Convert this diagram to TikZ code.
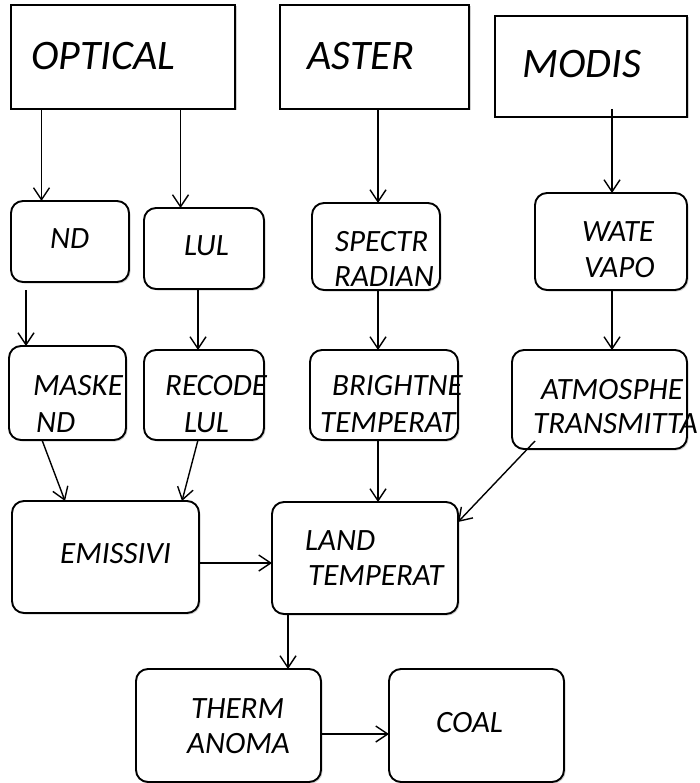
\documentclass[tikz,border=0pt]{standalone}
\usepackage{fontspec}
\setmainfont{Carlito}
\usetikzlibrary{arrows.meta,shadows}
\begin{document}
\begin{tikzpicture}[x=1pt,y=-1pt,
  shad/.style={drop shadow={shadow xshift=1.5pt,shadow yshift=-1.5pt,opacity=0.18,fill=black}},
  sbox/.style={draw=black,line width=1.9pt,fill=white,inner sep=0pt,outer sep=0pt,shad},
  rbox/.style={sbox,rounded corners=12pt},
  big/.style={inner sep=0pt,anchor=base west,font=\fontsize{42}{50}\selectfont\itshape},
  lbl/.style={inner sep=0pt,anchor=base west,font=\fontsize{31}{35}\selectfont\itshape},
  arr/.style={draw=black,line width=1.4pt,-{Straight Barb[length=12pt,width=16pt,line width=1.4pt]}}]
\useasboundingbox (0,0) rectangle (699,783);
% top rectangles
\node[sbox,minimum width=224,minimum height=104] (opt) at (123,57) {};
\node[sbox,minimum width=189,minimum height=104] (ast) at (374.5,57) {};
\node[sbox,minimum width=192,minimum height=101] (mod) at (591,66.5) {};
% rounded boxes
\node[rbox,minimum width=118,minimum height=81] (nd) at (70,241.5) {};
\node[rbox,minimum width=120,minimum height=81] (lul) at (204,248.5) {};
\node[rbox,minimum width=128,minimum height=87] (spe) at (376,246.5) {};
\node[rbox,minimum width=152,minimum height=97] (wat) at (611,241.5) {};
\node[rbox,minimum width=117,minimum height=94] (mas) at (67.5,393) {};
\node[rbox,minimum width=120,minimum height=90] (rec) at (204,395) {};
\node[rbox,minimum width=148,minimum height=90] (bri) at (384,395) {};
\node[rbox,minimum width=175,minimum height=99] (atm) at (599.5,399.5) {};
\node[rbox,minimum width=187,minimum height=112] (emi) at (105.5,557) {};
\node[rbox,minimum width=186,minimum height=112] (lan) at (365,558) {};
\node[rbox,minimum width=185,minimum height=113] (the) at (228.5,725.5) {};
\node[rbox,minimum width=175,minimum height=113] (coa) at (476.5,725.5) {};
% texts
\node[big] (topt) at (31,70) {OPTICAL};
\node[big] (tast) at (307,70) {ASTER};
\node[big] (tmod) at (522,78) {MODIS};
\node[lbl] (tnd) at (50,249) {ND};
\node[lbl] (tlul) at (184,255) {LUL};
\node[lbl] (tspa) at (335,252) {SPECTR};
\node[lbl] (tspb) at (334,287) {RADIAN};
\node[lbl] (twaa) at (582,242) {WATE};
\node[lbl] (twab) at (584,277) {VAPO};
\node[lbl] (tmaa) at (33,395) {MASKE};
\node[lbl] (tmab) at (36,432) {ND};
\node[lbl] (trea) at (165,395) {RECODE};
\node[lbl] (treb) at (184,432) {LUL};
\node[lbl] (tbra) at (332,395) {BRIGHTNE};
\node[lbl] (tbrb) at (320,432) {TEMPERAT};
\node[lbl] (tata) at (541,399) {ATMOSPHE};
\node[lbl] (tatb) at (533,433) {TRANSMITTA};
\node[lbl] (temi) at (60,563) {EMISSIVI};
\node[lbl] (tlaa) at (305,550) {LAND};
\node[lbl] (tlab) at (308,585) {TEMPERAT};
\node[lbl] (ttha) at (191,718) {THERM};
\node[lbl] (tthb) at (187,753) {ANOMA};
\node[lbl] (tcoa) at (436,732) {COAL};
% connectors
\draw[arr] (opt.south -| 41.5,0) -- (nd.north -| 41.5,0);
\draw[arr] (opt.south -| 180.5,0) -- (lul.north -| 180.5,0);
\draw[arr] (ast.south -| 378,0) -- (spe.north -| 378,0);
\draw[arr] ([yshift=8pt]mod.south -| 612,0) -- (wat.north -| 612,0);
\draw[arr] ([yshift=-8pt]nd.south -| 26,0) -- (mas.north -| 26,0);
\draw[arr] (lul.south -| 198,0) -- (rec.north -| 198,0);
\draw[arr] (spe.south -| 378,0) -- (bri.north -| 378,0);
\draw[arr] (wat.south -| 612,0) -- (atm.north -| 612,0);
\draw[arr] (mas.south -| 42,0) -- (emi.north -| 65,0);
\draw[arr] (rec.south -| 198,0) -- (emi.north -| 182,0);
\draw[arr] (bri.south -| 378,0) -- (lan.north -| 378,0);
\draw[arr] ([yshift=8pt]atm.south -| 535,0) -- (lan.east |- 0,522);
\draw[arr] (emi.east |- 0,563) -- (lan.west |- 0,563);
\draw[arr] (lan.south -| 288,0) -- (the.north -| 288,0);
\draw[arr] (the.east |- 0,734) -- (coa.west |- 0,734);
\end{tikzpicture}
\end{document}
